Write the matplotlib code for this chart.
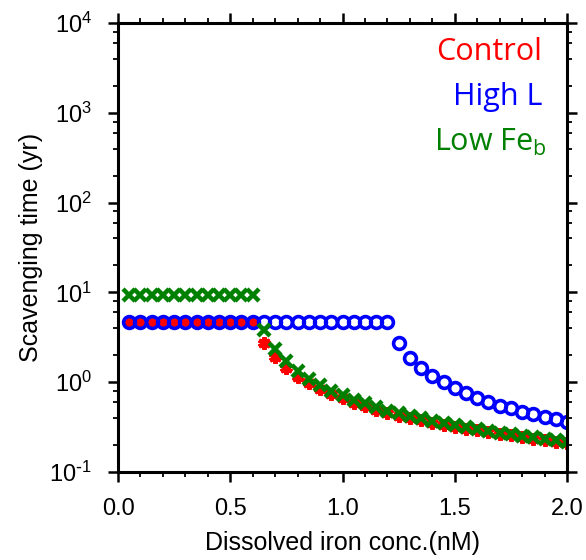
import matplotlib
matplotlib.use("Agg")
import numpy as np
import matplotlib.pyplot as plt
from matplotlib.ticker import LogLocator, MultipleLocator, NullFormatter, FuncFormatter

plt.rcParams['font.family'] = ['Liberation Sans', 'DejaVu Sans']
plt.rcParams['axes.unicode_minus'] = False

fe = [0.05, 0.10, 0.15, 0.20, 0.25, 0.30, 0.35, 0.40, 0.45, 0.50,
      0.55, 0.60, 0.65, 0.70, 0.75, 0.80, 0.85, 0.90, 0.95, 1.00,
      1.05, 1.10, 1.15, 1.20, 1.25, 1.30, 1.35, 1.40, 1.45, 1.50,
      1.55, 1.60, 1.65, 1.70, 1.75, 1.80, 1.85, 1.90, 1.95, 2.00]

control = [4.65] * 12 + [2.71, 1.89, 1.43, 1.15, 0.97, 0.83, 0.74, 0.66,
                         0.59, 0.54, 0.49, 0.45, 0.42, 0.395, 0.375, 0.35,
                         0.335, 0.318, 0.305, 0.29, 0.278, 0.265, 0.256,
                         0.246, 0.236, 0.225, 0.218, 0.21]

high_l = [4.65] * 24 + [2.71, 1.87, 1.45, 1.17, 1.0, 0.87, 0.75, 0.67,
                        0.61, 0.55, 0.51, 0.47, 0.44, 0.41, 0.386, 0.363]

low_feb = [9.3] * 12 + [3.81, 2.34, 1.73, 1.34, 1.10, 0.93, 0.80, 0.72,
                        0.64, 0.59, 0.525, 0.48, 0.455, 0.42, 0.40, 0.373,
                        0.355, 0.333, 0.32, 0.30, 0.288, 0.274, 0.265,
                        0.254, 0.243, 0.231, 0.225, 0.216]


def pow10(v, pos):
    e = int(round(np.log10(v)))
    if e < 0:
        return r"$\mathregular{10^{\text{-}%d}}$" % (-e)
    return r"$\mathregular{10^{%d}}$" % e


fig = plt.figure(figsize=(5.86, 5.6), dpi=100)
ax = fig.add_axes([0.2014, 0.1571, 0.7662, 0.8018])

ax.plot(fe, control, linestyle='none', marker=(6, 2, 0), markersize=9,
        markeredgewidth=3, color='red')
ax.plot(fe, high_l, linestyle='none', marker='o', markersize=8.5,
        markerfacecolor='none', markeredgewidth=2.6, markeredgecolor='blue')
ax.plot(fe, low_feb, linestyle='none', marker='x', markersize=8,
        markeredgewidth=3.2, color='green')

ax.set_yscale('log')
ax.set_xlim(0, 2.0)
ax.set_ylim(0.1, 1e4)
ax.xaxis.set_major_locator(MultipleLocator(0.5))
ax.xaxis.set_minor_locator(MultipleLocator(0.1))
ax.yaxis.set_major_locator(LogLocator(base=10, numticks=10))
ax.yaxis.set_minor_locator(LogLocator(base=10, subs=[2, 4, 6, 8], numticks=10))
ax.yaxis.set_minor_formatter(NullFormatter())
ax.yaxis.set_major_formatter(FuncFormatter(pow10))
ax.xaxis.set_major_formatter(FuncFormatter(lambda v, p: f"{v:.1f}"))

for s in ax.spines.values():
    s.set_linewidth(2.2)
ax.tick_params(which='both', direction='out', top=True, right=True,
               labelsize=17)
ax.tick_params(which='major', length=7.5, width=1.8, pad=11)
ax.tick_params(which='minor', length=3.5, width=1.3)

ax.set_xlabel("Dissolved iron conc.(nM)", fontsize=18, labelpad=8)
ax.set_ylabel("Scavenging time (yr)", fontsize=18, labelpad=5)

ax.text(0.945, 0.935, "Control", transform=ax.transAxes, ha='right',
        va='center', color='red', fontsize=22, family='Open Sans')
ax.text(0.945, 0.835, "High L", transform=ax.transAxes, ha='right',
        va='center', color='blue', fontsize=22, family='Open Sans')
ax.text(0.955, 0.735, r"Low Fe$_\mathregular{b}$", transform=ax.transAxes,
        ha='right', va='center', color='green', fontsize=22, family='Open Sans')

fig.savefig("out.png", dpi=100)
